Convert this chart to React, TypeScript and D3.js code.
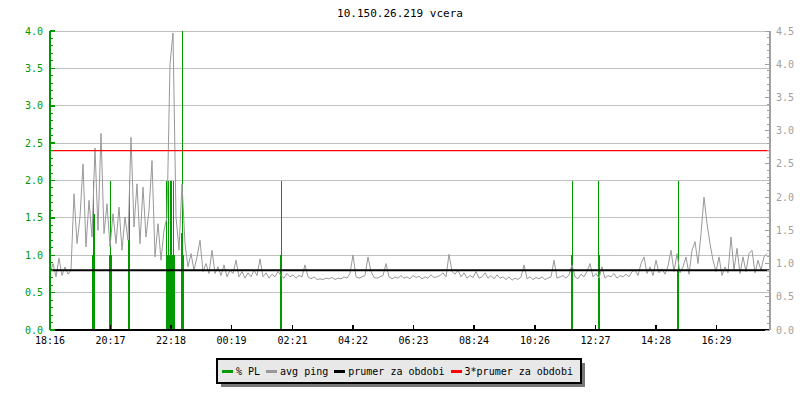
import React from 'react';
import * as d3 from 'd3';

// graph of ping to 10.150.26.219 over the previous day
const title = '10.150.26.219 vcera';
const xTickLabels = ['18:16', '20:17', '22:18', '00:19', '02:21', '04:22', '06:23', '08:24', '10:26', '12:27', '14:28', '16:29'];
const leftTicks = [0, 0.5, 1, 1.5, 2, 2.5, 3, 3.5, 4];
const rightTicks = [0, 0.5, 1, 1.5, 2, 2.5, 3, 3.5, 4, 4.5];

// avg ping, one sample every 6 minutes from 18:16
const pingStep = 6;
const pingValues = [
  0.85, 1.0, 0.8, 1.08, 0.82, 0.95, 0.84, 0.9,
  2.05, 1.3, 1.7, 2.5, 1.25, 1.95, 1.4, 2.74, 1.5, 2.96,
  1.45, 1.9, 1.25, 1.75, 1.3, 1.85, 1.2, 1.7, 1.35, 2.9,
  1.55, 2.2, 1.3, 2.15, 1.4, 1.8, 2.55, 1.1, 1.6, 1.05,
  1.5, 1.7, 4.0, 4.47, 1.7, 1.2, 2.2,
  1.3, 0.95, 1.15, 0.9, 1.1, 1.35, 0.88, 1.0, 0.85, 1.2, 0.85, 0.95, 0.82, 0.98, 0.8, 0.9,
  0.85, 1.05, 0.8, 0.88, 0.78, 0.86, 0.8, 0.9, 0.82, 1.07,
  0.8, 0.86, 0.78, 0.84, 0.8, 0.88, 0.82, 0.78, 0.85, 0.8,
  0.83, 0.78, 0.82, 0.8, 0.98, 0.8, 0.77, 0.8, 0.76, 0.77,
  0.76, 0.78, 0.77, 0.79, 0.76, 0.78, 0.77, 0.8, 0.78, 0.85,
  1.13, 0.8, 0.78, 0.8, 0.82, 1.1, 0.88, 0.79, 0.78, 0.8,
  0.82, 1.0, 0.8, 0.77, 0.8, 0.78, 0.82, 0.78, 0.8, 0.77,
  0.82, 0.79, 0.81, 0.77, 0.8, 0.78, 0.83, 0.79, 0.8, 0.82,
  0.86, 0.8, 1.14, 0.88, 0.84, 0.9, 0.8, 0.86, 0.78, 0.82,
  0.79, 0.88, 0.78, 0.8, 0.86, 0.78, 0.82, 0.77, 0.83, 0.78,
  0.8,
  0.76, 0.8, 0.75, 0.78, 0.76, 0.8, 0.98, 0.77, 0.8, 0.76,
  0.79, 0.77, 0.8, 0.76, 0.78, 0.8, 1.05, 0.78, 0.8, 0.82,
  0.78, 0.83, 0.98, 0.8, 0.77, 0.84, 0.8, 0.88, 1.0, 0.8,
  0.85, 0.78, 0.95, 0.78, 0.82, 0.8, 0.85, 0.78, 0.82, 0.8,
  0.84, 0.8, 0.88, 0.9, 0.82, 1.0, 1.1, 0.85, 0.95, 0.82,
  1.05, 0.86, 0.92, 0.84, 0.96, 1.2, 0.88, 1.15, 0.86, 0.95,
  1.1, 0.84, 1.2, 1.33, 1.0, 1.45, 2.0, 1.6, 1.3, 1.05,
  0.88, 1.1, 0.82, 0.95, 0.86, 1.4, 0.9, 1.23, 0.85, 1.1,
  0.88, 1.15, 1.2, 0.86, 1.05, 0.9, 1.1, 1.15,
];

// % packet loss impulses: minutes after 18:16 and value
const plMinutes = [84, 86, 88, 118, 120, 122, 156, 158, 232, 234, 236, 238, 240, 242, 244, 246, 248, 262, 264, 266, 460, 462, 1042, 1044, 1096, 1098, 1254, 1256];
const plValues = [1.0, 2.0, 1.55, 1.0, 2.0, 1.0, 1.2, 2.0, 2.0, 1.0, 2.0, 1.0, 2.0, 2.0, 1.0, 2.0, 1.0, 1.3, 4.0, 1.0, 1.0, 2.0, 1.0, 2.0, 2.0, 1.0, 0.8, 2.0];

const avgPing = 0.9;

const legendItems = [
  { label: '% PL', color: '#009900' },
  { label: 'avg ping', color: '#999999' },
  { label: 'prumer za obdobi', color: '#000000' },
  { label: '3*prumer za obdobi', color: '#ff0000' },
];

const font = '"DejaVu Sans Mono", "Liberation Mono", monospace';

function minutesFrom(label: string, start: string) {
  const [h, m] = label.split(':').map(Number);
  const [h0, m0] = start.split(':').map(Number);
  let d = h * 60 + m - (h0 * 60 + m0);
  if (d < 0) d += 1440;
  return d;
}

export default function App() {
  const left = 50, right = 770, top = 31, bottom = 330;
  const x = d3.scaleLinear().domain([0, 1440]).range([left, right]);
  const yL = d3.scaleLinear().domain([0, 4]).range([bottom, top]);
  const yR = d3.scaleLinear().domain([0, 4.5]).range([bottom, top]);

  const pingLine = d3
    .line<number>()
    .x((_, i) => x(i * pingStep))
    .y((d) => yR(d));

  const leftMinor = d3.range(0, 41).map((i) => i / 10);
  const rightMinor = d3.range(0, 46).map((i) => i / 10);

  // legend layout
  const charW = 6.02;
  let cx = 222;
  const legendPos = legendItems.map((it) => {
    const p = { ...it, x: cx };
    cx += 14 + it.label.length * charW + 6;
    return p;
  });

  return (
    <svg width={800} height={400} style={{ position: 'absolute', left: 0, top: 0, background: '#fff' }}>
      <text x={400} y={17} textAnchor="middle" fontFamily={font} fontSize={11} fill="#000">
        {title}
      </text>

      {/* grid */}
      <g shapeRendering="crispEdges">
        {leftTicks.filter((t) => t > 0).map((t) => (
          <line key={t} x1={left} x2={right} y1={yL(t)} y2={yL(t)} stroke="#c0c0c0" />
        ))}
      </g>

      {/* % PL impulses */}
      <g shapeRendering="crispEdges">
        {plMinutes.map((m, i) => (
          <line key={i} x1={Math.round(x(m)) + 0.5} x2={Math.round(x(m)) + 0.5} y1={yL(0)} y2={yL(plValues[i])} stroke="#009900" strokeWidth={1.2} />
        ))}
      </g>

      {/* avg ping */}
      <path d={pingLine(pingValues) || ''} fill="none" stroke="#999999" strokeWidth={1} />

      {/* average and 3*average */}
      <line x1={left} x2={right} y1={yR(avgPing)} y2={yR(avgPing)} stroke="#000" strokeWidth={2} />
      <line x1={left} x2={right} y1={yR(3 * avgPing)} y2={yR(3 * avgPing)} stroke="#ff0000" strokeWidth={1.2} />

      {/* x axis */}
      <g shapeRendering="crispEdges">
        <line x1={left} x2={right} y1={bottom} y2={bottom} stroke="#000" strokeWidth={1.5} />
        {xTickLabels.map((lab) => {
          const px = x(minutesFrom(lab, xTickLabels[0]));
          return (
            <g key={lab}>
              <line x1={px} x2={px} y1={bottom} y2={bottom - 5} stroke="#000" strokeWidth={1.5} />
              <text x={px} y={344} textAnchor="middle" fontFamily={font} fontSize={10} fill="#000">
                {lab}
              </text>
            </g>
          );
        })}
      </g>

      {/* left axis */}
      <g shapeRendering="crispEdges">
        <line x1={left} x2={left} y1={top} y2={bottom} stroke="#009900" strokeWidth={1.5} />
        {leftMinor.map((t) => (
          <line key={t} x1={left} x2={left + 3} y1={yL(t)} y2={yL(t)} stroke="#009900" />
        ))}
        {leftTicks.map((t) => (
          <g key={t}>
            <line x1={left} x2={left + 5} y1={yL(t)} y2={yL(t)} stroke="#009900" strokeWidth={1.5} />
            <text x={43} y={yL(t) + 3.5} textAnchor="end" fontFamily={font} fontSize={10} fill="#009900">
              {t.toFixed(1)}
            </text>
          </g>
        ))}
      </g>

      {/* right axis */}
      <g shapeRendering="crispEdges">
        <line x1={right} x2={right} y1={top} y2={bottom} stroke="#a0a0a0" strokeWidth={1.5} />
        {rightMinor.map((t) => (
          <line key={t} x1={right - 3} x2={right} y1={yR(t)} y2={yR(t)} stroke="#a0a0a0" />
        ))}
        {rightTicks.map((t) => (
          <g key={t}>
            <line x1={right - 5} x2={right} y1={yR(t)} y2={yR(t)} stroke="#a0a0a0" />
            <text x={776} y={yR(t) + 3.5} textAnchor="start" fontFamily={font} fontSize={10} fill="#a0a0a0">
              {t.toFixed(1)}
            </text>
          </g>
        ))}
      </g>

      {/* legend */}
      <g shapeRendering="crispEdges">
        <rect x={221} y={363} width={364} height={24} fill="#777" />
        <rect x={217} y={359} width={364} height={24} fill="#e8e8e8" stroke="#000" strokeWidth={1.5} />
        {legendPos.map((it) => (
          <g key={it.label}>
            <rect x={it.x} y={370} width={11} height={3} fill={it.color} />
            <text x={it.x + 14} y={375} fontFamily={font} fontSize={10} fill="#000">
              {it.label}
            </text>
          </g>
        ))}
      </g>
    </svg>
  );
}
